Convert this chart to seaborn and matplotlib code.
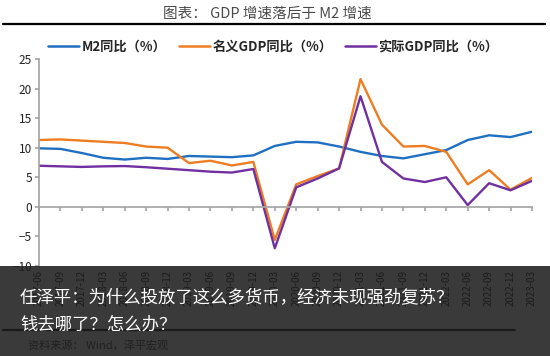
import pandas as pd
import matplotlib
matplotlib.use('Agg')
import matplotlib.pyplot as plt
import seaborn as sns
import numpy as np
from matplotlib.patches import Rectangle
from matplotlib.lines import Line2D

# quarterly data (%)
quarters = ['2017-06', '2017-09', '2017-12', '2018-03', '2018-06', '2018-09', '2018-12',
            '2019-03', '2019-06', '2019-09', '2019-12', '2020-03', '2020-06', '2020-09',
            '2020-12', '2021-03', '2021-06', '2021-09', '2021-12', '2022-03', '2022-06',
            '2022-09', '2022-12', '2023-03']
m2_yoy = [9.9, 9.8, 9.1, 8.3, 8.0, 8.3, 8.1, 8.6, 8.5, 8.4, 8.7, 10.3,
          11.0, 10.9, 10.2, 9.3, 8.6, 8.2, 8.9, 9.6, 11.3, 12.1, 11.8, 12.7]
nominal_gdp_yoy = [11.3, 11.4, 11.2, 11.0, 10.8, 10.2, 10.0, 7.4, 7.8, 7.0, 7.6, -5.6,
                   3.8, 5.2, 6.5, 21.6, 13.9, 10.2, 10.3, 9.3, 3.8, 6.2, 2.9, 4.9]
real_gdp_yoy = [6.95, 6.85, 6.75, 6.85, 6.9, 6.7, 6.45, 6.2, 5.95, 5.8, 6.4, -7.0,
                3.3, 4.8, 6.5, 18.7, 7.6, 4.8, 4.2, 5.0, 0.3, 4.0, 2.8, 4.4]
series_names = ['M2同比（%）', '名义GDP同比（%）', '实际GDP同比（%）']
colors = ['#1f70c1', '#ee7d22', '#7030a0']

df = pd.DataFrame({
    'pos': list(range(len(quarters))) * 3,
    'value': m2_yoy + nominal_gdp_yoy + real_gdp_yoy,
    'series': sum([[n] * len(quarters) for n in series_names], []),
})

sns.set_theme(style='white')
plt.rcParams['font.family'] = ['Noto Sans CJK SC', 'DejaVu Sans']

fig = plt.figure(figsize=(5.5, 3.56), dpi=100)
ax = fig.add_axes([39 / 550, 1 - 266 / 356, (532 - 39) / 550, (266 - 59) / 356])

sns.lineplot(data=df, x='pos', y='value', hue='series', palette=colors,
             linewidth=1.7, legend=False, ax=ax)

ax.set_xlim(0, len(quarters) - 1)
ax.set_ylim(-10, 25)
ax.set_yticks(np.arange(-10, 26, 5))
ax.set_xticks(range(len(quarters)))
ax.set_xlabel('')
ax.set_ylabel('')
for s in ['top', 'right']:
    ax.spines[s].set_visible(False)
ax.spines['left'].set_color('#a6a6a6')
ax.spines['bottom'].set_position(('data', 0))
ax.spines['bottom'].set_color('#a6a6a6')
ax.tick_params(axis='y', length=3, color='#a6a6a6', labelsize=8.5, labelcolor='#222222', pad=2,
               left=True)
ax.tick_params(axis='x', direction='out', length=3, color='#a6a6a6', labelbottom=False, bottom=True)

# category labels at the bottom of the plot area
for i, q in enumerate(quarters):
    ax.text(i, -0.02, q, transform=ax.get_xaxis_transform(), rotation=90,
            ha='center', va='top', fontsize=7, color='#111111', clip_on=False)

# legend
handles = [Line2D([0], [0], color=c, lw=1.8) for c in colors]
fig.legend(handles, series_names, loc='center', bbox_to_anchor=(0.497, 1 - 47 / 356), ncol=3,
           frameon=False, handlelength=2.3, handletextpad=0.2, columnspacing=1.0,
           prop={'weight': 'bold', 'size': 9.5, 'family': ['Noto Sans CJK SC', 'DejaVu Sans']})

# title and rules
fig.text(0.487, 1 - 14 / 356, '图表： GDP 增速落后于 M2 增速', ha='center', va='center',
         fontsize=10.5, color='#4a4a4a')
fig.add_artist(Line2D([3 / 550, 545 / 550], [1 - 24 / 356] * 2, color='black', lw=1.6))
fig.add_artist(Line2D([3 / 550, 515 / 550], [1 - 330 / 356] * 2, color='black', lw=1.6))
fig.text(28 / 550, 1 - 345 / 356, '资料来源： Wind，泽平宏观', ha='left', va='center',
         fontsize=8, style='italic', color='#333333')

# dark banner on top
fig.add_artist(Rectangle((0, 0), 1, 1 - 266 / 356, transform=fig.transFigure,
                         facecolor='#1e1e1e', alpha=0.88, edgecolor='none', zorder=10))
fig.text(20 / 550, 1 - 297 / 356, '任泽平：为什么投放了这么多货币，经济未现强劲复苏？',
         ha='left', va='center', fontsize=12.5, color='white', zorder=11)
fig.text(20 / 550, 1 - 325 / 356, '钱去哪了？怎么办？',
         ha='left', va='center', fontsize=12.5, color='white', zorder=11)

fig.savefig('out.png', dpi=100)
